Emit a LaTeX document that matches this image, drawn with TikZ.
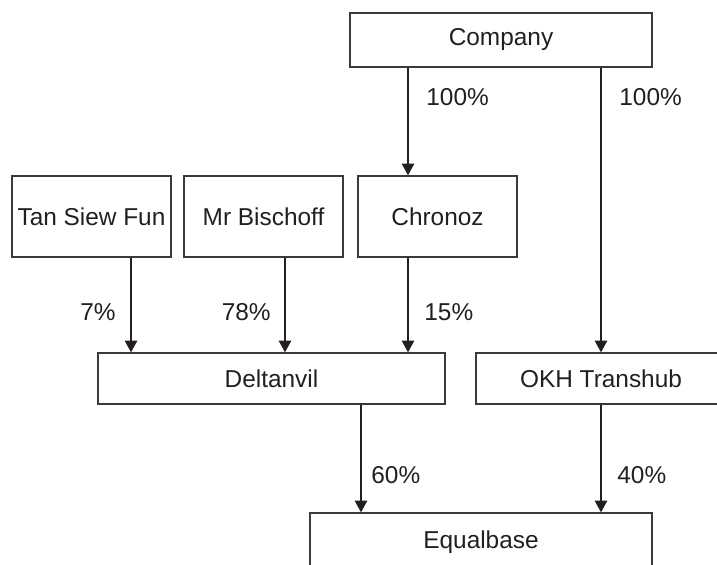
\documentclass[tikz,border=0pt]{standalone}
\usepackage{fontspec}
\setmainfont{Liberation Sans}
\usetikzlibrary{arrows.meta}
\definecolor{ink}{HTML}{231F20}
\definecolor{edge}{HTML}{3A3A3A}
\tikzset{
  box/.style={draw=edge, line width=0.7pt, inner sep=0pt, text=ink,
    font=\fontsize{12.2}{14}\selectfont, rectangle},
  lbl/.style={inner sep=0pt, text=ink, font=\fontsize{12.2}{14}\selectfont},
  arr/.style={draw=ink, line width=0.7pt, -{Triangle[width=6.2pt,length=5.8pt]}},
  ln/.style={draw=ink, line width=0.7pt}
}
\begin{document}
\begin{tikzpicture}[x=0.5pt,y=-0.5pt]
\useasboundingbox (0,0) rectangle (717,565);
% boxes
\node[box, minimum width=151pt, minimum height=27pt] (company) at (501,40) {Company};
\node[box, minimum width=79.5pt, minimum height=40.5pt] (tan) at (91.5,216.5) {Tan Siew Fun};
\node[box, minimum width=79.5pt, minimum height=40.5pt] (bis) at (263.5,216.5) {Mr Bischoff};
\node[box, minimum width=79.5pt, minimum height=40.5pt] (chr) at (437.5,216.5) {Chronoz};
\node[box, minimum width=173.5pt, minimum height=25.5pt] (del) at (271.5,378.5) {Deltanvil};
\node[box, minimum width=125pt, minimum height=25.5pt] (okh) at (601,378.5) {OKH Transhub};
\node[box, minimum width=171pt, minimum height=29pt] (equ) at (481,542) {Equalbase};
% x positions of connectors
\coordinate (xa) at (131,0);
\coordinate (xb) at (285,0);
\coordinate (xc) at (408,0);
\coordinate (xd) at (601,0);
\coordinate (xe) at (361,0);
% connectors
\draw[arr] (company.south -| xc) -- (chr.north -| xc);
\draw[arr] (company.south -| xd) -- (okh.north -| xd);
\draw[arr] (tan.south -| xa) -- (del.north -| xa);
\draw[arr] (bis.south -| xb) -- (del.north -| xb);
\draw[arr] (chr.south -| xc) -- (del.north -| xc);
\draw[arr] (del.south -| xe) -- (equ.north -| xe);
\draw[arr] (okh.south -| xd) -- (equ.north -| xd);
% labels
\node[lbl, anchor=west] (p1) at (426,97) {100\%};
\node[lbl, anchor=west] (p2) at (619,97) {100\%};
\node[lbl, anchor=east] (p3) at (116,312) {7\%};
\node[lbl, anchor=east] (p4) at (271,312) {78\%};
\node[lbl, anchor=west] (p5) at (424,312) {15\%};
\node[lbl, anchor=west] (p6) at (371,475) {60\%};
\node[lbl, anchor=west] (p7) at (617,475) {40\%};
\end{tikzpicture}
\end{document}
